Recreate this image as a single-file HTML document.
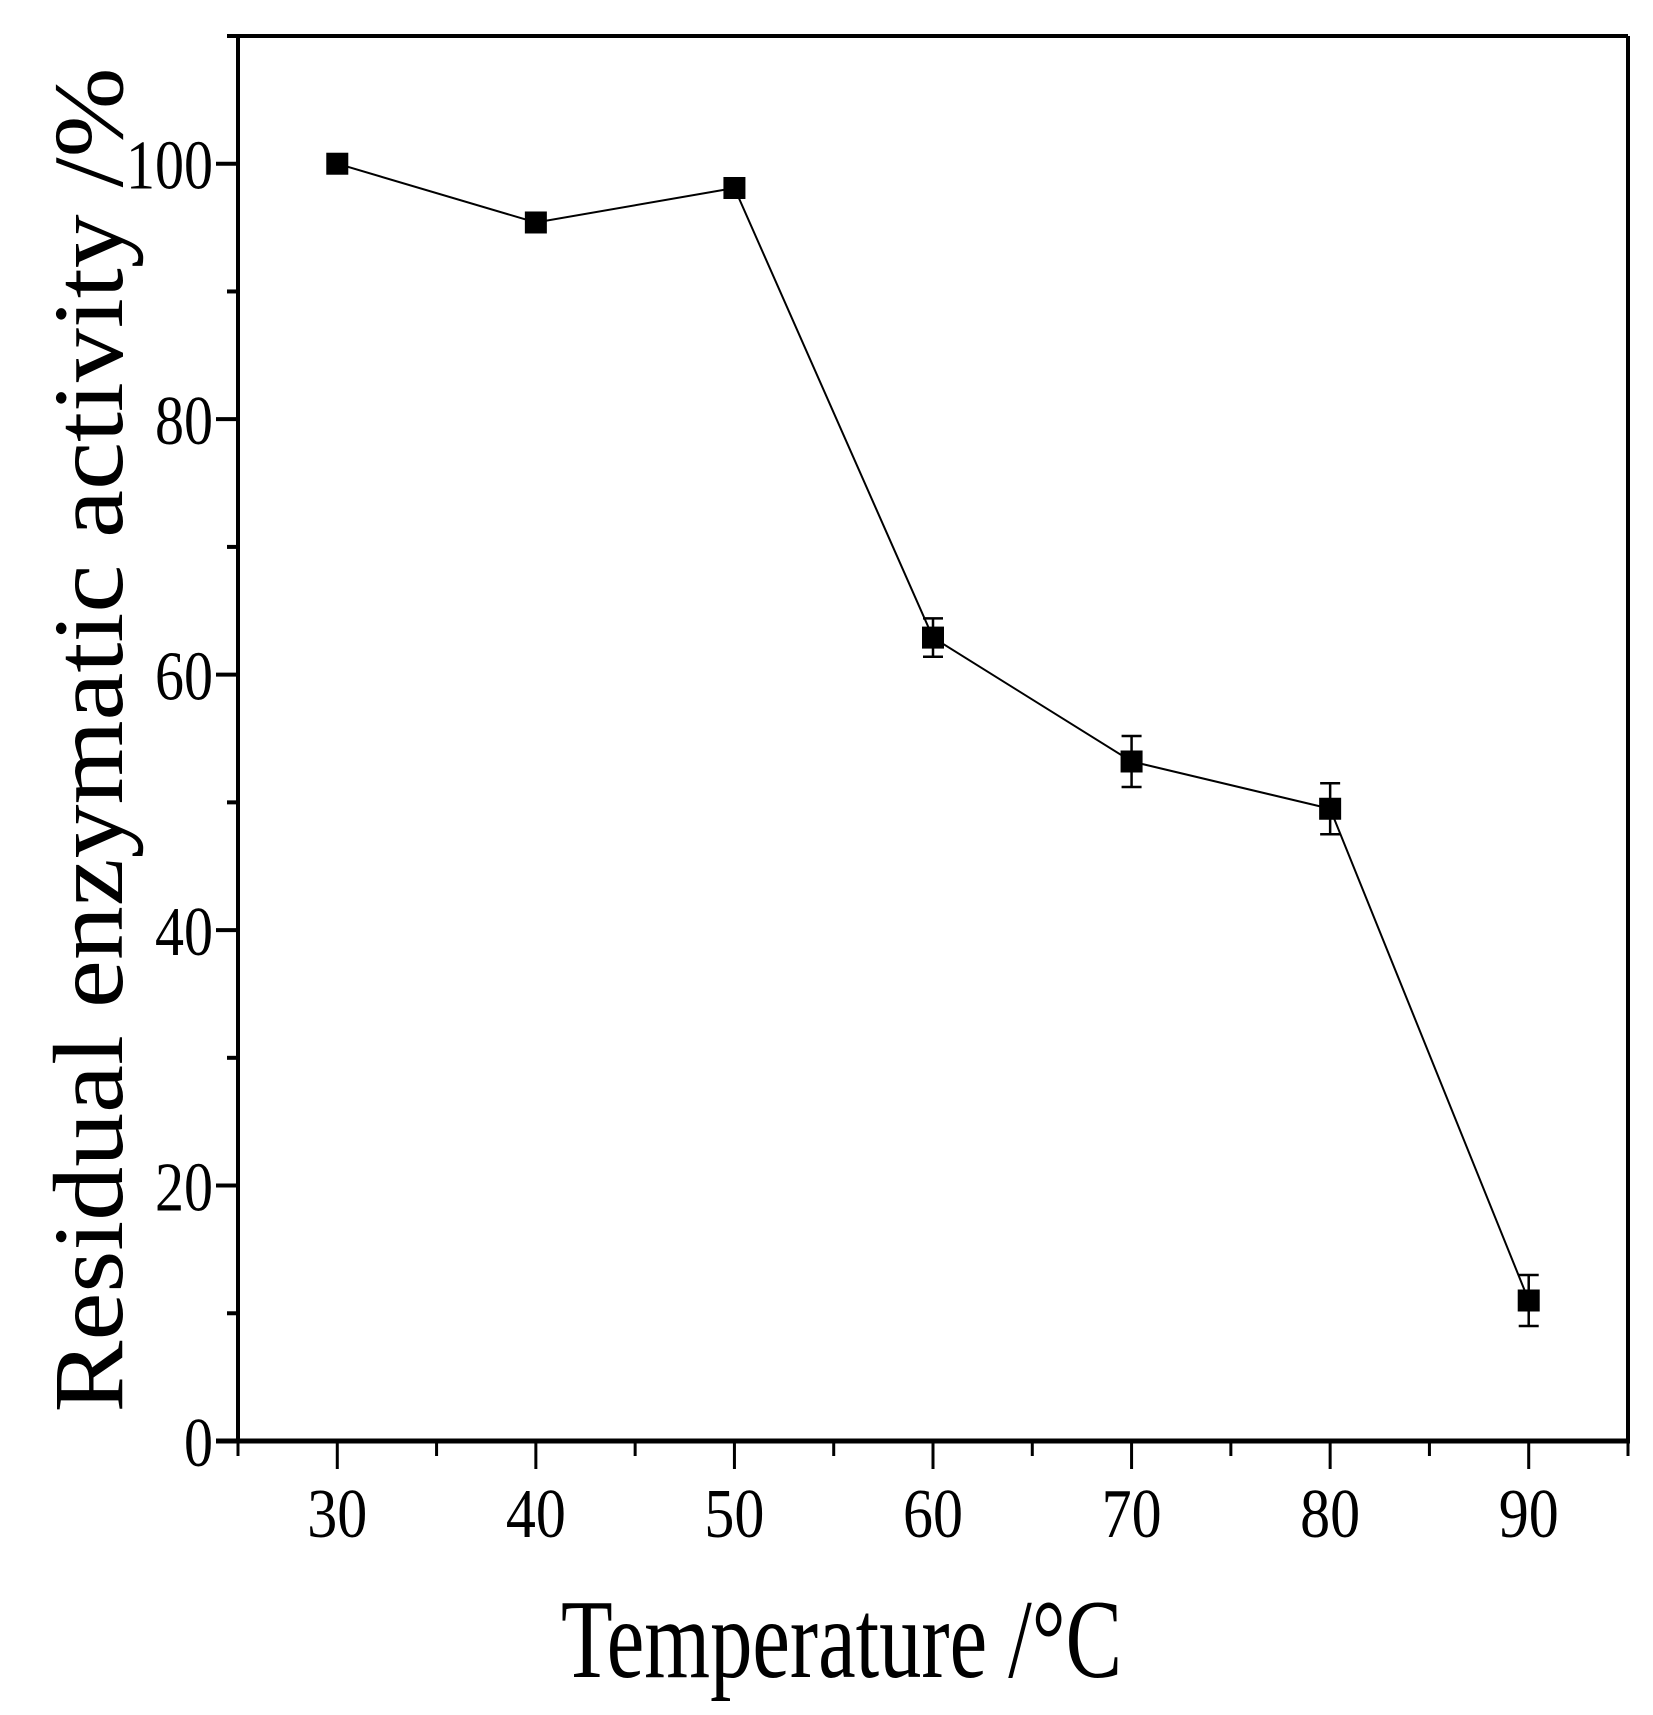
<!DOCTYPE html>
<html><head><meta charset="utf-8"><style>html,body{margin:0;padding:0;background:#fff}svg{display:block}</style></head>
<body>
<svg id="chart" width="1653" height="1715" xmlns="http://www.w3.org/2000/svg" font-family="Liberation Serif, serif">
<g id="plot"></g>
</svg>
<script>
const temps = [30, 40, 50, 60, 70, 80, 90];
const activity = [100, 95.4, 98.1, 62.9, 53.2, 49.5, 11];
const errors = [0.5, 0.5, 0.5, 1.5, 2.0, 2.0, 2.0];
const xTicks = [30, 40, 50, 60, 70, 80, 90];
const yTicks = [0, 20, 40, 60, 80, 100];

const L = 238, R = 1628, T = 36, B = 1441;
const xMin = 25, xMax = 95, yMin = 0, yMax = 110;
const sx = v => L + (v - xMin) / (xMax - xMin) * (R - L);
const sy = v => B - (v - yMin) / (yMax - yMin) * (B - T);
const NS = 'http://www.w3.org/2000/svg';
const g = document.getElementById('plot');
function mk(tag, attrs, parent) {
  const e = document.createElementNS(NS, tag);
  for (const k in attrs) e.setAttribute(k, attrs[k]);
  (parent || g).appendChild(e);
  return e;
}
let e;
e = mk('line', {x1: L, y1: T, x2: R, y2: T, stroke: '#000', 'stroke-width': 4});
 
e = mk('line', {x1: R, y1: T, x2: R, y2: B, stroke: '#000', 'stroke-width': 4});
 
e = mk('line', {x1: L, y1: T - 2, x2: L, y2: B + 2, stroke: '#000', 'stroke-width': 4});
 
e = mk('line', {x1: L - 22, y1: B, x2: R + 2, y2: B, stroke: '#000', 'stroke-width': 5});
 

for (let v = 25; v <= 95; v += 5) {
  const major = xTicks.includes(v);
  e = mk('line', {x1: sx(v), y1: B, x2: sx(v), y2: B + (major ? 28 : 15), stroke: '#000', 'stroke-width': 3});
   
}
xTicks.forEach(v => {
  e = mk('text', {x: sx(v), y: 1537, 'text-anchor': 'middle', 'font-size': 70, textLength: 60, lengthAdjust: 'spacingAndGlyphs'});
  e.textContent = v;
   
});
for (let v = 0; v <= 110; v += 10) {
  const major = yTicks.includes(v);
  e = mk('line', {x1: L, y1: sy(v), x2: L - (major ? 22 : 11), y2: sy(v), stroke: '#000', 'stroke-width': 4});
   
}
yTicks.forEach(v => {
  const s = String(v);
  e = mk('text', {x: 213, y: sy(v) + 25, 'text-anchor': 'end', 'font-size': 70, textLength: 29 * s.length, lengthAdjust: 'spacingAndGlyphs'});
  e.textContent = s;
   
});
const pts = temps.map((t, i) => sx(t) + ',' + sy(activity[i])).join(' ');
e = mk('polyline', {points: pts, fill: 'none', stroke: '#000', 'stroke-width': 2});
 
temps.forEach((t, i) => {
  const x = sx(t), y1 = sy(activity[i] + errors[i]), y2 = sy(activity[i] - errors[i]);
  e = mk('path', {d: `M${x},${y1}V${y2}M${x-10},${y1}H${x+10}M${x-10},${y2}H${x+10}`, stroke: '#000', 'stroke-width': 2.5, fill: 'none'});
   
  e = mk('rect', {x: x - 11, y: sy(activity[i]) - 11, width: 22, height: 22, fill: '#000'});
   
});
e = mk('text', {x: 0, y: 0, transform: 'translate(122,740) rotate(-90)', 'text-anchor': 'middle', 'font-size': 100, textLength: 1345, lengthAdjust: 'spacingAndGlyphs'});
e.textContent = 'Residual enzymatic activity /%';
 
e = mk('text', {x: 561, y: 1677, 'font-size': 112, textLength: 561, lengthAdjust: 'spacingAndGlyphs'});
e.textContent = 'Temperature /°C';
 
</script>
</body></html>
